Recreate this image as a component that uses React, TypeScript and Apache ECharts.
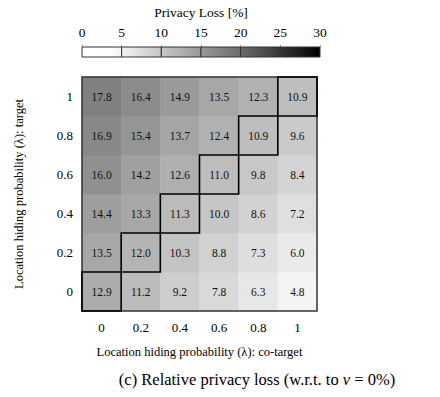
import React, { useEffect, useRef } from "react";
import * as echarts from "echarts";

const coTargetCats = ["0", "0.2", "0.4", "0.6", "0.8", "1"];
const targetCats = ["0", "0.2", "0.4", "0.6", "0.8", "1"];
// privacy loss per target row (bottom row = target 0), columns = co-target
const lossTarget0 = [12.9, 11.2, 9.2, 7.8, 6.3, 4.8];
const lossTarget02 = [13.5, 12.0, 10.3, 8.8, 7.3, 6.0];
const lossTarget04 = [14.4, 13.3, 11.3, 10.0, 8.6, 7.2];
const lossTarget06 = [16.0, 14.2, 12.6, 11.0, 9.8, 8.4];
const lossTarget08 = [16.9, 15.4, 13.7, 12.4, 10.9, 9.6];
const lossTarget1 = [17.8, 16.4, 14.9, 13.5, 12.3, 10.9];
const lossRows = [lossTarget0, lossTarget02, lossTarget04, lossTarget06, lossTarget08, lossTarget1];
const colorbarTicks = [0, 5, 10, 15, 20, 25, 30];
const greys = ["#ffffff", "#fefefe", "#dcdcdc", "#bbbbbb", "#999999", "#777777", "#525252", "#282828", "#000000"];

const FONT = "'Liberation Serif', 'Times New Roman', serif";

function greyAt(v: number): string {
  const t = Math.max(0, Math.min(1, v / 30)) * (greys.length - 1);
  const i = Math.min(greys.length - 2, Math.floor(t));
  const f = t - i;
  const a = parseInt(greys[i].slice(1, 3), 16);
  const b = parseInt(greys[i + 1].slice(1, 3), 16);
  const g = Math.round(a + (b - a) * f);
  return `rgb(${g},${g},${g})`;
}

export default function App() {
  const ref = useRef<HTMLDivElement>(null);
  useEffect(() => {
    const chart = echarts.init(ref.current!, null, { renderer: "svg" });
    const heatData: number[][] = [];
    lossRows.forEach((row, yi) => row.forEach((v, xi) => heatData.push([xi, yi, v])));
    const diagData = coTargetCats.map((_, i) => [i, i]);
    const segs = colorbarTicks.slice(0, -1).map((t, i) => [t, colorbarTicks[i + 1]]);

    chart.setOption({
      animation: false,
      textStyle: { fontFamily: FONT },
      grid: [
        { left: 82, top: 77, width: 235, height: 234 },
        { left: 82, top: 47, width: 238, height: 10 },
      ],
      xAxis: [
        {
          type: "category",
          data: coTargetCats,
          gridIndex: 0,
          axisLine: { show: false },
          axisTick: { show: false },
          axisLabel: { color: "#000", fontFamily: FONT, fontSize: 13, margin: 10 },
          name: "Location hiding probability (λ): co-target",
          nameLocation: "middle",
          nameGap: 34,
          nameTextStyle: { color: "#000", fontFamily: FONT, fontSize: 12.5 },
        },
        {
          type: "value",
          gridIndex: 1,
          min: 0,
          max: 30,
          interval: 5,
          position: "top",
          axisLine: { show: false },
          axisTick: { show: true, length: 2, lineStyle: { color: "#999" } },
          splitLine: { show: false },
          axisLabel: { color: "#000", fontFamily: FONT, fontSize: 13.5, margin: 8 },
          name: "Privacy Loss [%]",
          nameLocation: "middle",
          nameGap: 28,
          nameTextStyle: { color: "#000", fontFamily: FONT, fontSize: 13.5 },
        },
      ],
      yAxis: [
        {
          type: "category",
          data: targetCats,
          gridIndex: 0,
          axisLine: { show: false },
          axisTick: { show: false },
          axisLabel: { color: "#000", fontFamily: FONT, fontSize: 13, margin: 9 },
          name: "Location hiding probability (λ): target",
          nameLocation: "middle",
          nameGap: 57,
          nameTextStyle: { color: "#000", fontFamily: FONT, fontSize: 12.5 },
        },
        { type: "category", data: ["bar"], gridIndex: 1, show: false },
      ],
      visualMap: {
        show: false,
        type: "continuous",
        min: 0,
        max: 30,
        seriesIndex: 0,
        inRange: { color: greys },
      },
      series: [
        {
          type: "heatmap",
          xAxisIndex: 0,
          yAxisIndex: 0,
          data: heatData,
          label: {
            show: true,
            color: "#111",
            fontFamily: FONT,
            fontSize: 11.5,
            formatter: (p: any) => Number(p.value[2]).toFixed(1),
          },
          emphasis: { disabled: true },
        },
        {
          type: "custom",
          xAxisIndex: 0,
          yAxisIndex: 0,
          z: 5,
          silent: true,
          data: diagData,
          renderItem: (params: any, api: any) => {
            const c = api.coord([api.value(0), api.value(1)]);
            const s = api.size([1, 1]);
            return {
              type: "rect",
              shape: { x: c[0] - s[0] / 2, y: c[1] - s[1] / 2, width: s[0], height: s[1] },
              style: { fill: "none", stroke: "#000", lineWidth: 1.6 },
            };
          },
        },
        {
          type: "custom",
          xAxisIndex: 0,
          yAxisIndex: 0,
          z: 4,
          silent: true,
          data: [[0, 0]],
          renderItem: (params: any) => {
            const cs = params.coordSys;
            return {
              type: "rect",
              shape: { x: cs.x, y: cs.y, width: cs.width, height: cs.height },
              style: { fill: "none", stroke: "#333", lineWidth: 1.5 },
            };
          },
        },
        {
          type: "custom",
          xAxisIndex: 1,
          yAxisIndex: 1,
          silent: true,
          data: segs,
          renderItem: (params: any, api: any) => {
            const a = api.value(0);
            const b = api.value(1);
            const x0 = api.coord([a, 0])[0];
            const x1 = api.coord([b, 0])[0];
            const cs = params.coordSys;
            const stops = [];
            for (let k = 0; k <= 10; k++) {
              stops.push({ offset: k / 10, color: greyAt(a + ((b - a) * k) / 10) });
            }
            return {
              type: "rect",
              shape: { x: x0, y: cs.y, width: x1 - x0, height: cs.height },
              style: {
                fill: { type: "linear", x: 0, y: 0, x2: 1, y2: 0, colorStops: stops },
                stroke: "#333",
                lineWidth: 1,
              },
            };
          },
        },
      ],
      graphic: [
        {
          type: "text",
          x: 257,
          y: 379,
          style: {
            text: "{a|(c) Relative privacy loss (w.r.t. to }{i|ν}{a| = 0%)}",
            align: "center",
            verticalAlign: "middle",
            rich: {
              a: { fontFamily: FONT, fontSize: 16.5, fill: "#000" },
              i: { fontFamily: FONT, fontSize: 16.5, fontStyle: "italic", fill: "#000" },
            },
          },
        },
      ],
    });
    return () => chart.dispose();
  }, []);
  return (
    <div
      ref={ref}
      style={{ position: "fixed", left: 0, top: 0, width: 440, height: 397, background: "#fff" }}
    />
  );
}
